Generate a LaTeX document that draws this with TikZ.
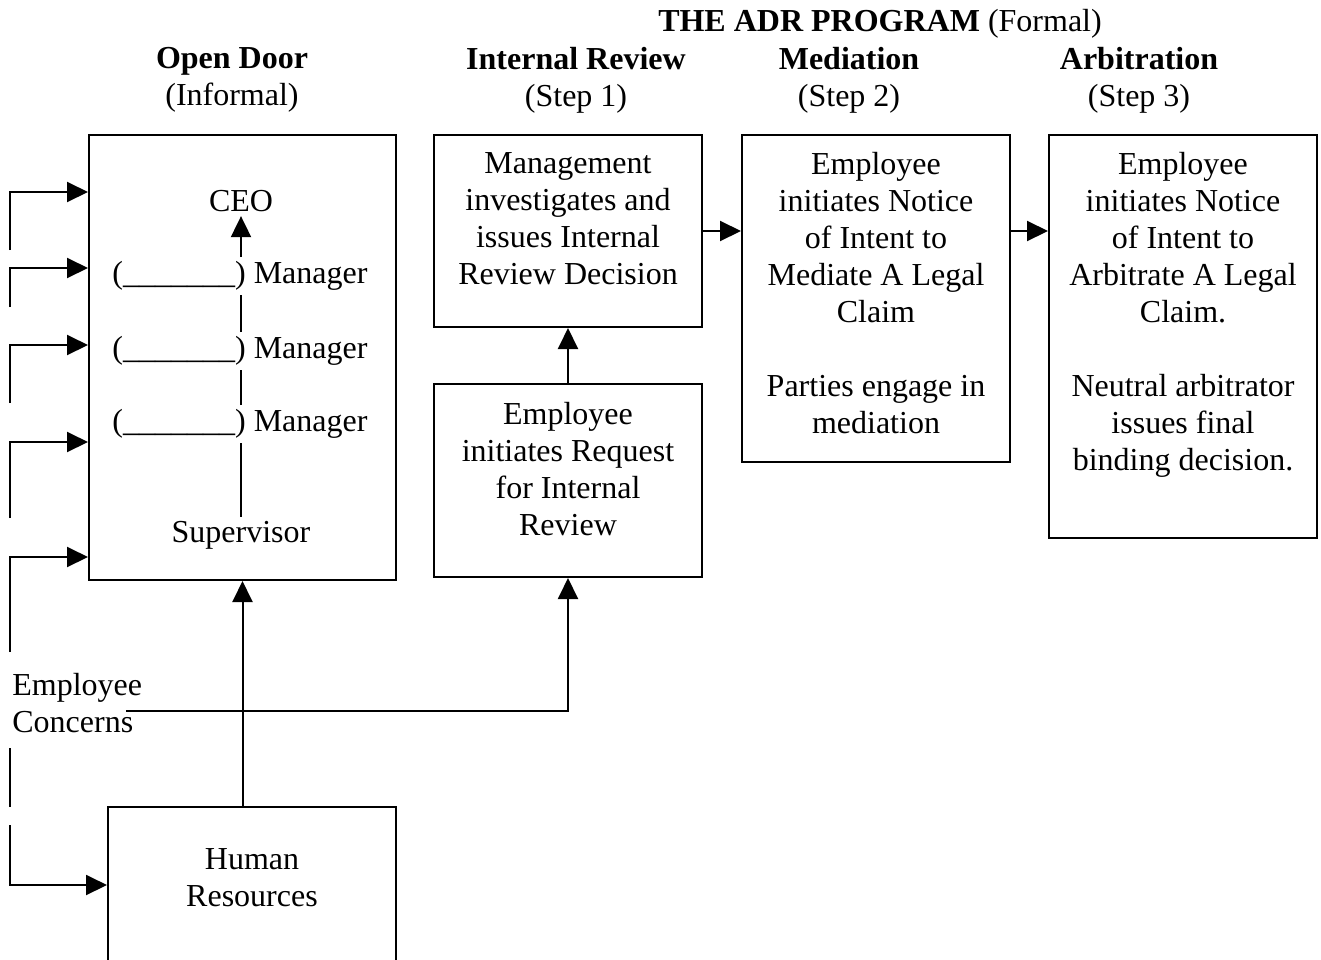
\documentclass[tikz,border=0pt]{standalone}
\usepackage{fontspec}
\setmainfont{Liberation Serif}
\usetikzlibrary{arrows.meta, positioning}
\tikzset{
	box/.style={draw, line width=1pt, anchor=north west, inner sep=0pt},
	txt/.style={align=center, inner sep=0pt},
	role/.style={align=center, inner sep=2pt},
	arr/.style={line width=1pt, -{Triangle[length=10.5pt,width=10pt]}},
	ln/.style={line width=1pt},
}
\begin{document}
\begin{tikzpicture}[x=0.5pt, y=-0.5pt, font=\fontsize{16}{18.5}\selectfont]
	\clip (0,0) rectangle (1321,959);
	\node[txt] (adr) at (880,24) {\textbf{THE ADR PROGRAM} (Formal)};
	\node[txt] (hod) at (232,80) {\textbf{Open Door}\\(Informal)};
	\node[txt] (hir) at (576,80) {\textbf{Internal Review}\\(Step 1)};
	\node[txt] (hmed) at (849,80) {\textbf{Mediation}\\(Step 2)};
	\node[txt] (harb) at (1139,80) {\textbf{Arbitration}\\(Step 3)};
	\node[box, minimum width=153.5pt, minimum height=222.5pt] (od) at (88,134) {};
	\node[box, minimum width=134pt, minimum height=96pt] (ir) at (433,134) {};
	\node[box, minimum width=134pt, minimum height=96.5pt] (req) at (433,383) {};
	\node[box, minimum width=134pt, minimum height=163.5pt] (med) at (741,134) {};
	\node[box, minimum width=134pt, minimum height=201.5pt] (arb) at (1048,134) {};
	\node[box, minimum width=144pt, minimum height=78pt] (hr) at (107,806) {};
	\node[txt, below=9pt of ir.north] (irt) {Management\\investigates and\\issues Internal\\Review Decision};
	\node[txt, below=9.5pt of req.north] (reqt) {Employee\\initiates Request\\for Internal\\Review};
	\node[txt, below=9pt of med.north] (medt) {Employee\\initiates Notice\\of Intent to\\Mediate A Legal\\Claim\\[18.5pt]Parties engage in\\mediation};
	\node[txt, below=9pt of arb.north] (arbt) {Employee\\initiates Notice\\of Intent to\\Arbitrate A Legal\\Claim.\\[18.5pt]Neutral arbitrator\\issues final\\binding decision.};
	\node[txt, below=21pt of hr.north] (hrt) {Human\\Resources};
	\node[role] (ceo) at (241,201) {CEO};
	\node[role] (m1) at (240,276) {(\_\_\_\_\_\_\_) Manager};
	\node[role] (m2) at (240,351) {(\_\_\_\_\_\_\_) Manager};
	\node[role] (m3) at (240,424) {(\_\_\_\_\_\_\_) Manager};
	\node[role] (sup) at (241,535) {Supervisor};
	\draw[arr] (m1.north -| ceo.south) -- (ceo.south);
	\draw[ln] (m2.north -| ceo.south) -- (m1.south -| ceo.south);
	\draw[ln] (m3.north -| ceo.south) -- (m2.south -| ceo.south);
	\draw[ln] (sup.north) -- (m3.south -| sup.north);
	\node[txt, align=left, anchor=west] (emp) at (12,703) {Employee\\Concerns};
	\foreach \a/\b [count=\i] in {250/192, 307/268, 403/345, 518/442, 652/557} {
		\coordinate (e\i) at (10,\a);
		\draw[arr] (e\i) |- (od.west |- 0,\b);
	}
	\coordinate (e6) at (10,748);
	\coordinate (e7) at (10,807);
	\coordinate (e8) at (10,825);
	\draw[ln] (e6) -- (e7);
	\draw[arr] (e8) |- (hr.west);
	\coordinate (ec) at (126,711);
	\draw[arr] (ec) -| (req.south);
	\draw[arr] (hr.north -| od.south) -- (od.south);
	\draw[arr] (req.north) -- (ir.south);
	\draw[arr] (ir.east) -- (ir.east -| med.west);
	\draw[arr] (ir.east -| med.east) -- (ir.east -| arb.west);
\end{tikzpicture}
\end{document}
